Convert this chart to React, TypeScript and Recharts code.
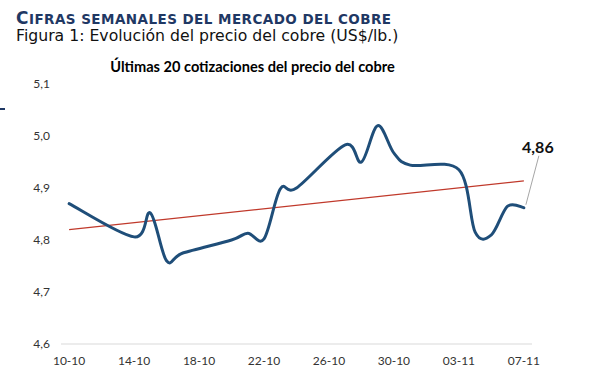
import React from 'react';
import { LineChart, Line, XAxis, YAxis, LabelList } from 'recharts';

// cotizaciones (US$/lb.)
const fechas = ['10-10', '14-10', '15-10', '16-10', '17-10', '20-10', '21-10', '22-10', '23-10', '24-10', '27-10', '28-10', '29-10', '30-10', '31-10', '03-11', '04-11', '05-11', '06-11', '07-11'];
const precios = [4.87, 4.806, 4.852, 4.76, 4.775, 4.8, 4.813, 4.802, 4.898, 4.9, 4.983, 4.95, 5.02, 4.967, 4.944, 4.935, 4.815, 4.81, 4.865, 4.862];
const etiquetasX = ['10-10', '14-10', '18-10', '22-10', '26-10', '30-10', '03-11', '07-11'];
const ticksY = [4.6, 4.7, 4.8, 4.9, 5.0, 5.1];

const dia = (s: string) => {
  const [d, m] = s.split('-').map(Number);
  return Math.round((Date.UTC(2025, m - 1, d) - Date.UTC(2025, 9, 10)) / 86400000);
};

const data = fechas.map((f, i) => ({ dia: dia(f), precio: precios[i] }));
const ticksLabel = etiquetasX.map(dia);
const ticksLinea = ticksLabel.map((t) => t - 0.5);
const ultimoDia = dia(fechas[fechas.length - 1]);

// tendencia lineal (minimos cuadrados sobre la fecha)
const n = data.length;
const mx = data.reduce((a, p) => a + p.dia, 0) / n;
const my = data.reduce((a, p) => a + p.precio, 0) / n;
const pend =
  data.reduce((a, p) => a + (p.dia - mx) * (p.precio - my), 0) /
  data.reduce((a, p) => a + (p.dia - mx) ** 2, 0);
const tendencia = [data[0].dia, ultimoDia].map((d) => ({ dia: d, tend: my + pend * (d - mx) }));

// suavizado tipo Excel (Catmull-Rom)
const suave = (ctx: any) => {
  let pts: number[][] = [];
  return {
    areaStart() {},
    areaEnd() {},
    lineStart() {
      pts = [];
    },
    point(x: number, y: number) {
      pts.push([+x, +y]);
    },
    lineEnd() {
      if (!pts.length) return;
      ctx.moveTo(pts[0][0], pts[0][1]);
      for (let i = 0; i < pts.length - 1; i++) {
        const p0 = pts[Math.max(i - 1, 0)];
        const p1 = pts[i];
        const p2 = pts[i + 1];
        const p3 = pts[Math.min(i + 2, pts.length - 1)];
        ctx.bezierCurveTo(
          p1[0] + (p2[0] - p0[0]) / 6,
          p1[1] + (p2[1] - p0[1]) / 6,
          p2[0] - (p3[0] - p1[0]) / 6,
          p2[1] - (p3[1] - p1[1]) / 6,
          p2[0],
          p2[1]
        );
      }
    },
  };
};

const coma = (v: number, dec: number) => v.toFixed(dec).replace('.', ',');

const tickFont = { fontFamily: 'Lato', fontSize: 12, fill: '#333' };

const EtiquetaFinal = (props: any) => {
  const { x, y, index } = props;
  if (index !== precios.length - 1) return null;
  return (
    <g>
      <line x1={x + 2} y1={y - 3} x2={x + 15} y2={y - 52} stroke="#a6a6a6" strokeWidth={1} />
      <text x={x + 14} y={y - 55} textAnchor="middle" fontFamily="Lato" fontWeight={700} fontSize={16} fill="#111">
        {coma(precios[precios.length - 1], 2)}
      </text>
    </g>
  );
};

export default function App() {
  return (
    <div style={{ position: 'absolute', left: 0, top: 0, width: 596, height: 392, background: '#fff', overflow: 'hidden' }}>
      <div
        style={{
          position: 'absolute',
          left: 16,
          top: 7,
          fontFamily: 'DejaVu Sans',
          fontWeight: 700,
          fontSize: 13.5,
          letterSpacing: 0.45,
          color: '#1f3864',
          whiteSpace: 'nowrap',
          lineHeight: '22px',
        }}
      >
        <span style={{ fontSize: 17 }}>C</span>IFRAS SEMANALES DEL MERCADO DEL COBRE
      </div>
      <div
        style={{
          position: 'absolute',
          left: 16,
          top: 26,
          fontFamily: 'DejaVu Sans',
          fontSize: 15.7,
          color: '#111',
          whiteSpace: 'nowrap',
          lineHeight: '20px',
        }}
      >
        Figura 1: Evolución del precio del cobre (US$/lb.)
      </div>
      <div
        style={{
          position: 'absolute',
          left: 0,
          width: 505,
          top: 58,
          textAlign: 'center',
          fontFamily: 'Lato',
          fontWeight: 700,
          fontSize: 14.6,
          color: '#000',
          whiteSpace: 'nowrap',
          lineHeight: '18px',
        }}
      >
        Últimas 20 cotizaciones del precio del cobre
      </div>
      <div style={{ position: 'absolute', left: 0, top: 108, width: 5, height: 2, background: '#1f3864' }} />
      <div style={{ position: 'absolute', left: 0, top: 0 }}>
        <LineChart width={596} height={392} margin={{ top: 84, right: 64, bottom: 18, left: 0 }}>
          <XAxis
            xAxisId="marcas"
            type="number"
            dataKey="dia"
            domain={[-0.5, ultimoDia + 0.5]}
            ticks={ticksLinea}
            height={0}
            tick={false}
            axisLine={false}
            tickSize={5}
            tickLine={{ stroke: '#d9d9d9' }}
          />
          <XAxis
            type="number"
            dataKey="dia"
            domain={[-0.5, ultimoDia + 0.5]}
            ticks={ticksLabel}
            interval={0}
            height={30}
            tickFormatter={(v: number) => etiquetasX[ticksLabel.indexOf(v)]}
            tick={tickFont}
            tickLine={false}
            tickSize={5}
            tickMargin={7}
            axisLine={{ stroke: '#d9d9d9' }}
          />
          <YAxis
            type="number"
            domain={[4.6, 5.1]}
            ticks={ticksY}
            width={61}
            axisLine={false}
            tickLine={false}
            tickSize={0}
            tickMargin={11}
            tick={tickFont}
            tickFormatter={(v: number) => coma(v, 1)}
          />
          <Line
            data={tendencia}
            dataKey="tend"
            type="linear"
            stroke="#c0392b"
            strokeWidth={1.2}
            dot={false}
            isAnimationActive={false}
          />
          <Line
            data={data}
            dataKey="precio"
            type={suave as any}
            stroke="#1f4e79"
            strokeWidth={3}
            strokeLinecap="round"
            strokeLinejoin="round"
            dot={false}
            isAnimationActive={false}
          >
            <LabelList dataKey="precio" content={EtiquetaFinal} />
          </Line>
        </LineChart>
      </div>
    </div>
  );
}
